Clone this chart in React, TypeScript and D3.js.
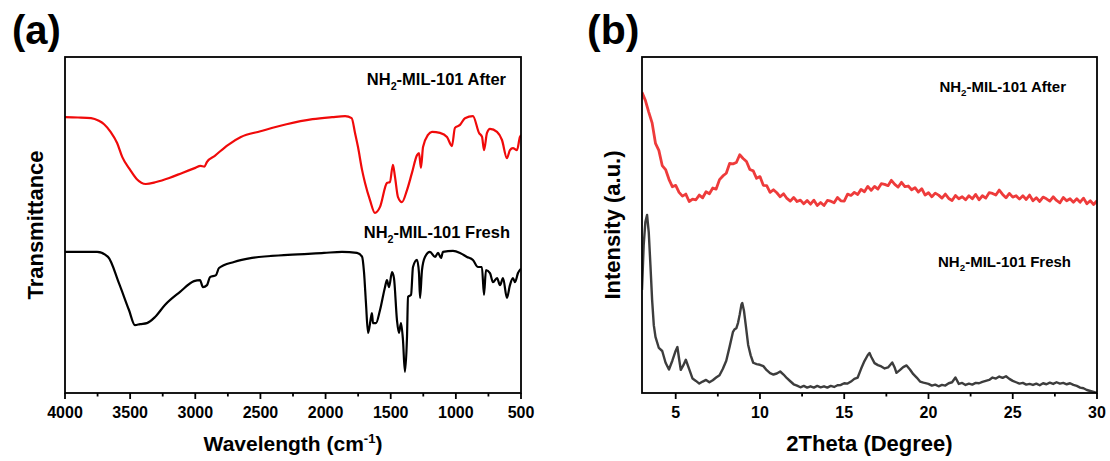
import React from 'react';
import * as d3 from 'd3';

// ---------- data ----------
// FTIR, panel (a): [wavenumber cm-1, transmittance a.u.]
const IR_AFTER: [number, number][] = [
  [4000, 82.1], [3900, 82.0], [3800, 81.8], [3740, 81.0], [3700, 80.0], [3650, 77.7], [3600, 74.4],
  [3560, 70.2], [3500, 66.4], [3450, 63.7], [3380, 62.2], [3300, 62.8], [3200, 64.0], [3100, 65.5],
  [3000, 67.0], [2960, 67.6], [2930, 67.4], [2910, 68.8], [2850, 70.6], [2750, 73.8], [2650, 76.2],
  [2500, 77.9], [2300, 80.0], [2100, 81.5], [1950, 82.1], [1850, 82.4], [1800, 81.8], [1774, 77.4],
  [1751, 73.2], [1720, 66.4], [1697, 62.5], [1659, 57.4], [1621, 53.6], [1582, 55.4], [1529, 62.5],
  [1506, 62.8], [1483, 67.9], [1467, 64.3], [1444, 58.3], [1414, 56.8], [1375, 60.4], [1337, 65.5],
  [1298, 70.8], [1283, 71.4], [1268, 67.0], [1252, 73.2], [1214, 76.8], [1183, 77.7], [1122, 77.4],
  [1068, 76.2], [1030, 73.5], [1007, 78.9], [968, 79.8], [930, 81.8], [869, 82.4], [822, 77.4],
  [799, 76.2], [784, 72.3], [761, 77.4], [738, 78.6], [684, 77.7], [646, 75.3], [608, 69.9],
  [585, 72.3], [562, 72.9], [531, 72.3], [508, 76.2], [500, 76.8],
];

const IR_FRESH: [number, number][] = [
  [4000, 42.0], [3850, 42.0], [3754, 42.0], [3670, 40.5], [3586, 32.7], [3509, 24.7], [3463, 20.2],
  [3424, 20.5], [3371, 20.8], [3309, 22.6], [3233, 26.2], [3117, 30.1], [3010, 33.3], [2964, 33.6],
  [2941, 31.5], [2910, 32.1], [2887, 34.5], [2841, 35.1], [2818, 37.2], [2703, 39.0], [2565, 40.2],
  [2289, 41.1], [2012, 41.7], [1874, 42.0], [1759, 41.7], [1720, 40.6], [1705, 36.0], [1690, 26.8],
  [1674, 17.9], [1651, 22.6], [1644, 23.8], [1636, 20.8], [1613, 20.8], [1582, 24.7], [1544, 31.5],
  [1529, 33.6], [1513, 31.5], [1490, 36.0], [1475, 34.2], [1452, 21.7], [1437, 17.9], [1421, 20.8],
  [1406, 15.8], [1391, 6.3], [1375, 16.7], [1367, 28.6], [1344, 29.2], [1329, 37.5], [1298, 39.6],
  [1283, 35.7], [1275, 28.3], [1260, 36.6], [1237, 40.5], [1199, 42.0], [1160, 40.5], [1137, 41.7],
  [1114, 40.2], [1099, 42.0], [1022, 42.3], [968, 41.7], [915, 40.5], [869, 39.6], [830, 37.5],
  [800, 37.5], [784, 29.2], [769, 36.6], [738, 35.7], [715, 33.0], [684, 34.2], [661, 32.1],
  [638, 34.2], [608, 28.3], [585, 32.1], [562, 34.2], [546, 33.0], [523, 35.7], [500, 37.0],
];

// XRD, panel (b): [2theta deg, intensity a.u.]
const XRD_AFTER: [number, number][] = [
  [3.0, 89.5], [3.2, 87.1], [3.4, 83.6], [3.6, 80.4], [3.8, 74.3], [4.0, 72.2], [4.2, 67.7], [4.4, 66.5],
  [4.6, 63.6], [4.8, 61.4], [5.0, 61.8], [5.2, 59.7], [5.4, 58.6], [5.6, 59.2], [5.8, 57.0], [6.0, 57.7],
  [6.2, 57.5], [6.4, 58.9], [6.6, 58.1], [6.8, 59.9], [7.0, 59.3], [7.2, 61.0], [7.4, 60.7], [7.6, 63.5],
  [7.8, 64.6], [8.0, 65.4], [8.2, 68.3], [8.4, 68.2], [8.6, 68.6], [8.8, 70.9], [9.0, 69.8], [9.2, 68.9],
  [9.4, 66.5], [9.6, 66.1], [9.8, 63.9], [10.0, 64.4], [10.2, 61.8], [10.4, 61.7], [10.6, 59.7], [10.8, 60.5],
  [11.0, 59.6], [11.2, 58.4], [11.4, 59.3], [11.6, 57.9], [11.8, 57.1], [12.0, 58.2], [12.2, 57.0], [12.4, 57.4],
  [12.6, 56.3], [12.8, 57.3], [13.0, 56.2], [13.2, 57.4], [13.4, 55.8], [13.6, 56.7], [13.8, 55.8], [14.0, 57.3],
  [14.2, 57.1], [14.4, 56.6], [14.6, 58.2], [14.8, 57.2], [15.0, 57.1], [15.2, 59.2], [15.4, 58.8], [15.6, 59.7],
  [15.8, 59.1], [16.0, 60.6], [16.2, 59.9], [16.4, 61.5], [16.6, 60.3], [16.8, 61.5], [17.0, 60.7], [17.2, 62.3],
  [17.4, 62.1], [17.6, 61.7], [17.8, 63.3], [18.0, 62.1], [18.2, 61.3], [18.4, 62.7], [18.6, 61.4], [18.8, 61.6],
  [19.0, 60.5], [19.2, 61.1], [19.4, 59.8], [19.6, 60.8], [19.8, 58.9], [20.0, 59.6], [20.2, 58.4], [20.4, 59.5],
  [20.6, 58.9], [20.8, 58.0], [21.0, 59.2], [21.2, 57.9], [21.4, 57.3], [21.6, 58.8], [21.8, 57.8], [22.0, 58.4],
  [22.2, 57.5], [22.4, 58.7], [22.6, 57.8], [22.8, 59.1], [23.0, 57.5], [23.2, 58.7], [23.4, 58.0], [23.6, 59.6],
  [23.8, 59.4], [24.0, 58.9], [24.2, 60.4], [24.4, 59.1], [24.6, 58.1], [24.8, 59.4], [25.0, 58.3], [25.2, 58.7],
  [25.4, 57.7], [25.6, 58.7], [25.8, 57.6], [26.0, 58.9], [26.2, 57.2], [26.4, 58.1], [26.6, 57.0], [26.8, 58.3],
  [27.0, 57.8], [27.2, 57.1], [27.4, 58.4], [27.6, 57.3], [27.8, 56.6], [28.0, 58.2], [28.2, 57.2], [28.4, 57.8],
  [28.6, 56.8], [28.8, 57.8], [29.0, 56.8], [29.2, 58.0], [29.4, 56.3], [29.6, 57.2], [29.8, 56.1], [30.0, 57.2],
];

const XRD_FRESH: [number, number][] = [
  [3.0, 30.7], [3.1, 44.0], [3.2, 50.9], [3.3, 53.0], [3.4, 47.9], [3.5, 38.1], [3.6, 27.7], [3.7, 20.2],
  [3.8, 16.7], [4.0, 13.4], [4.2, 12.5], [4.4, 9.0], [4.6, 7.0], [4.8, 9.6], [5.0, 12.6], [5.1, 13.7],
  [5.2, 10.2], [5.3, 6.9], [5.45, 8.2], [5.6, 9.9], [5.8, 7.1], [6.0, 4.3], [6.2, 3.6], [6.4, 2.8],
  [6.6, 3.4], [6.8, 3.9], [7.0, 3.2], [7.2, 3.8], [7.4, 4.6], [7.6, 5.3], [7.8, 7.2], [8.0, 9.6],
  [8.2, 13.8], [8.4, 18.2], [8.5, 19.0], [8.6, 19.3], [8.7, 20.9], [8.8, 23.4], [8.9, 26.3], [8.95, 26.8],
  [9.05, 24.5], [9.15, 20.5], [9.3, 14.3], [9.45, 11.2], [9.6, 9.0], [9.8, 8.6], [10.0, 8.4], [10.2, 8.0],
  [10.4, 6.8], [10.6, 5.9], [10.8, 5.5], [11.0, 5.8], [11.2, 6.4], [11.4, 5.5], [11.6, 4.4], [11.8, 3.5],
  [12.0, 2.6], [12.2, 2.2], [12.4, 1.7], [12.6, 2.1], [12.8, 1.6], [13.0, 2.0], [13.2, 1.6], [13.4, 2.1],
  [13.6, 1.7], [13.8, 2.0], [14.0, 1.6], [14.2, 2.1], [14.4, 1.8], [14.6, 2.3], [14.8, 2.4], [15.0, 2.9],
  [15.2, 2.8], [15.4, 3.4], [15.6, 4.2], [15.8, 4.6], [16.0, 7.2], [16.2, 9.5], [16.4, 11.3], [16.5, 11.9],
  [16.6, 10.8], [16.8, 8.9], [17.0, 8.3], [17.2, 7.9], [17.4, 7.3], [17.6, 7.6], [17.85, 9.1], [18.0, 7.5],
  [18.1, 6.0], [18.3, 6.8], [18.5, 7.7], [18.7, 8.2], [18.9, 7.0], [19.1, 5.6], [19.3, 4.6], [19.5, 3.4],
  [19.7, 3.1], [20.0, 2.7], [20.2, 2.2], [20.4, 2.5], [20.6, 2.0], [20.8, 2.4], [21.0, 2.2], [21.2, 2.9],
  [21.4, 3.2], [21.6, 4.6], [21.8, 2.7], [22.0, 3.0], [22.2, 2.4], [22.4, 2.8], [22.6, 2.5], [22.8, 3.0],
  [23.0, 2.9], [23.2, 3.3], [23.4, 3.6], [23.6, 3.9], [23.8, 4.6], [24.0, 4.3], [24.2, 4.9], [24.4, 4.5],
  [24.6, 5.0], [24.8, 4.2], [25.0, 3.6], [25.2, 3.2], [25.4, 2.8], [25.6, 3.0], [25.8, 2.5], [26.0, 2.7],
  [26.2, 2.4], [26.4, 2.8], [26.6, 2.3], [26.8, 2.9], [27.0, 2.6], [27.2, 3.1], [27.4, 2.7], [27.6, 3.2],
  [27.8, 2.8], [28.0, 3.0], [28.2, 2.6], [28.4, 2.9], [28.6, 2.4], [28.8, 2.1], [29.0, 1.6], [29.2, 1.4],
  [29.4, 0.9], [29.6, 0.6], [29.8, 0.3], [30.0, 0.0],
];

const IR_MAJOR = [4000, 3500, 3000, 2500, 2000, 1500, 1000, 500];
const IR_MINOR = [3750, 3250, 2750, 2250, 1750, 1250, 750];
const XRD_MAJOR = [5, 10, 15, 20, 25, 30];
const XRD_MINOR = [7.5, 12.5, 17.5, 22.5, 27.5];

const FONT = '"Liberation Sans", Arial, Helvetica, sans-serif';

function Label({ x, y, rest, size }: { x: number; y: number; rest: string; size: number }) {
  return (
    <text x={x} y={y} textAnchor="end" fontSize={size} fontWeight="bold" fontFamily={FONT} fill="#000">
      NH
      <tspan fontSize={size * 0.65} dy={size * 0.28}>2</tspan>
      <tspan dy={-size * 0.28}>{rest}</tspan>
    </text>
  );
}

export default function App() {
  const top = 57;
  const bottom = 393;
  const y = d3.scaleLinear().domain([0, 100]).range([bottom, top]);
  const xA = d3.scaleLinear().domain([4000, 500]).range([65, 521]);
  const xB = d3.scaleLinear().domain([3, 30]).range([642, 1097]);

  const lineA = d3.line<[number, number]>().x(d => xA(d[0])).y(d => y(d[1])).curve(d3.curveMonotoneX);
  const lineB = d3.line<[number, number]>().x(d => xB(d[0])).y(d => y(d[1]));

  const tickLabelY = 418;

  const frame = (x0: number, x1: number) => (
    <rect x={x0} y={top} width={x1 - x0} height={bottom - top} fill="none" stroke="#000" strokeWidth={1.8} />
  );

  return (
    <svg width={1110} height={461} style={{ position: 'absolute', left: 0, top: 0, background: '#fff' }}
      fontFamily={FONT}>
      <defs>
        <clipPath id="clipA"><rect x={65} y={top} width={456} height={bottom - top} /></clipPath>
        <clipPath id="clipB"><rect x={642} y={top} width={455} height={bottom - top} /></clipPath>
      </defs>

      {/* ---------- panel (a) ---------- */}
      <text x={12} y={44} fontSize={40} fontWeight="bold">(a)</text>
      <g clipPath="url(#clipA)">
        <path d={lineA(IR_AFTER) || ''} fill="none" stroke="#f00a0a" strokeWidth={2.2} strokeLinejoin="round" />
        <path d={lineA(IR_FRESH) || ''} fill="none" stroke="#000" strokeWidth={2.2} strokeLinejoin="round" />
      </g>
      {frame(65, 521)}
      {IR_MAJOR.map(t => (
        <g key={'am' + t}>
          <line x1={xA(t)} x2={xA(t)} y1={bottom} y2={bottom + 6} stroke="#000" strokeWidth={1.8} />
          <text x={xA(t)} y={tickLabelY} textAnchor="middle" fontSize={16} fontWeight="bold">{t}</text>
        </g>
      ))}
      {IR_MINOR.map(t => (
        <line key={'an' + t} x1={xA(t)} x2={xA(t)} y1={bottom} y2={bottom + 3.5} stroke="#000" strokeWidth={1.8} />
      ))}
      <text x={(65 + 521) / 2} y={451} textAnchor="middle" fontSize={21} fontWeight="bold">
        Wavelength (cm<tspan fontSize={13} dy={-8}>-1</tspan><tspan dy={8}>)</tspan>
      </text>
      <text transform={`translate(43,${(top + bottom) / 2}) rotate(-90)`} textAnchor="middle" fontSize={22} fontWeight="bold">
        Transmittance
      </text>
      <Label x={506} y={85} size={16.5} rest="-MIL-101 After" />
      <Label x={510} y={238} size={16.5} rest="-MIL-101 Fresh" />

      {/* ---------- panel (b) ---------- */}
      <text x={587} y={44} fontSize={41} fontWeight="bold">(b)</text>
      <g clipPath="url(#clipB)">
        <path d={lineB(XRD_AFTER) || ''} fill="none" stroke="#ee3b3b" strokeWidth={2.8} strokeLinejoin="round" />
        <path d={lineB(XRD_FRESH) || ''} fill="none" stroke="#3d3d3d" strokeWidth={2.4} strokeLinejoin="round" />
      </g>
      {frame(642, 1097)}
      {XRD_MAJOR.map(t => (
        <g key={'bm' + t}>
          <line x1={xB(t)} x2={xB(t)} y1={bottom} y2={bottom + 6} stroke="#000" strokeWidth={1.8} />
          <text x={xB(t)} y={tickLabelY} textAnchor="middle" fontSize={16} fontWeight="bold">{t}</text>
        </g>
      ))}
      {XRD_MINOR.map(t => (
        <line key={'bn' + t} x1={xB(t)} x2={xB(t)} y1={bottom} y2={bottom + 3.5} stroke="#000" strokeWidth={1.8} />
      ))}
      <text x={(642 + 1097) / 2} y={451} textAnchor="middle" fontSize={22} fontWeight="bold">
        2Theta (Degree)
      </text>
      <text transform={`translate(620,${(top + bottom) / 2}) rotate(-90)`} textAnchor="middle" fontSize={22} fontWeight="bold">
        Intensity (a.u.)
      </text>
      <Label x={1066} y={92} size={15} rest="-MIL-101 After" />
      <Label x={1071} y={267} size={15} rest="-MIL-101 Fresh" />
    </svg>
  );
}
